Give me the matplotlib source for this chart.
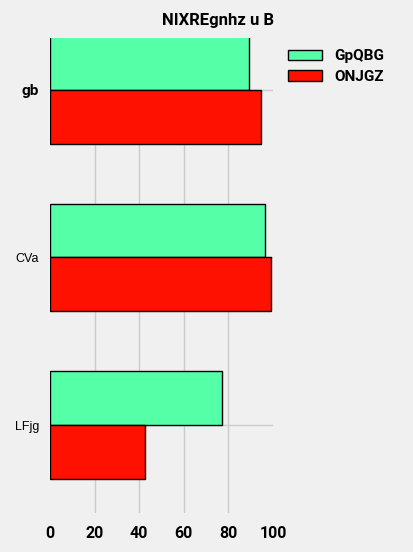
import numpy as np
import matplotlib
matplotlib.use("Agg")
import matplotlib.pyplot as plt

categories = ["LFjg", "CVa", "gb"]
series_names = ["GpQBG", "ONJGZ"]
gpqbg = [77.1, 96.4, 89.2]
onjgz = [42.6, 99.1, 94.6]
colors = ["#55FFA8", "#FF1100"]

bold_font = ["Roboto", "DejaVu Sans"]
plain_font = ["Liberation Sans", "DejaVu Sans"]

fig = plt.figure(figsize=(4.14, 5.52), dpi=100, facecolor="#F0F0F0")
ax = fig.add_axes([50 / 414, 1 - 513 / 552, 223 / 414, 475 / 552])
ax.set_facecolor("#F0F0F0")

y = np.arange(len(categories))
h = 0.32
ax.barh(y + h / 2, gpqbg, height=h, color=colors[0], edgecolor="black",
        linewidth=1, label=series_names[0], zorder=3)
ax.barh(y - h / 2, onjgz, height=h, color=colors[1], edgecolor="black",
        linewidth=1, label=series_names[1], zorder=3)

ax.set_xlim(0, 100)
ax.set_ylim(-0.525, 2.31)
ax.set_xticks([0, 20, 40, 60, 80, 100])
ax.set_yticks(y)
ax.set_yticklabels(categories)
for lbl in ax.get_xticklabels():
    lbl.set_fontfamily(bold_font)
    lbl.set_fontweight("bold")
    lbl.set_fontsize(11.5)
for lbl in ax.get_yticklabels():
    if lbl.get_text() == "gb":
        lbl.set_fontfamily(bold_font)
        lbl.set_fontweight("bold")
        lbl.set_fontsize(11)
    else:
        lbl.set_fontfamily(plain_font)
        lbl.set_fontsize(9)

ax.tick_params(axis="y", length=0, pad=8)
ax.tick_params(axis="x", length=0, pad=9)
ax.grid(True, color="#CBCBCB", linewidth=1, zorder=0)
# no gridline at the two ends of the x range
xgrid = ax.xaxis.get_gridlines()
xgrid[0].set_visible(False)
xgrid[-1].set_visible(False)
for s in ax.spines.values():
    s.set_visible(False)

leg = ax.legend(loc="upper left", bbox_to_anchor=(1.04, 0.989), frameon=False,
                prop={"family": bold_font, "weight": "bold", "size": 11},
                handlelength=2.2, handleheight=0.72, handletextpad=0.85,
                labelspacing=0.45, borderaxespad=0)

fig.text(218 / 414, 1 - 20 / 552, "NIXREgnhz u B", ha="center", va="center",
         fontfamily=bold_font, fontweight="bold", fontsize=12)

fig.savefig("out.png", dpi=100, facecolor=fig.get_facecolor())
